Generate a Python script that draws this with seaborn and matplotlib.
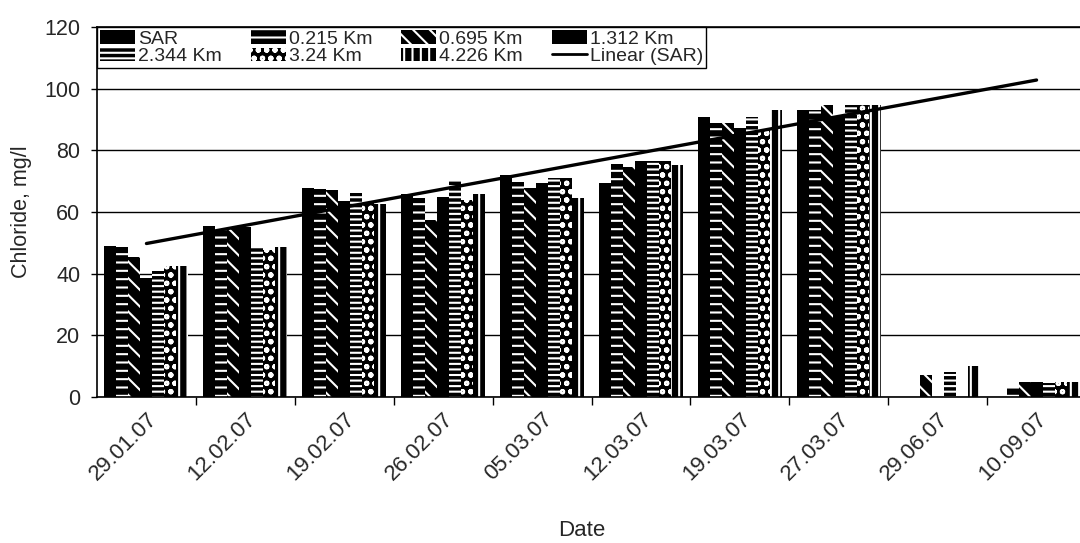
import numpy as np
import pandas as pd
import matplotlib
matplotlib.use("Agg")
import matplotlib.pyplot as plt
import matplotlib.transforms as mtransforms
import seaborn as sns
from matplotlib.patches import Patch
from matplotlib.lines import Line2D

# Sampling dates
dates = ["29.01.07", "12.02.07", "19.02.07", "26.02.07", "05.03.07",
         "12.03.07", "19.03.07", "27.03.07", "29.06.07", "10.09.07"]

nan = np.nan
# Chloride concentration (mg/l) at the source (SAR) and downstream stations
sar     = [49.0, 55.5, 67.7, 66.0, 72.0, 69.3, 90.7, 93.0, nan, nan]
km_0215 = [48.5, 54.4, 67.3, 64.4, 69.8, 75.6, 89.0, 93.0, nan, 3.0]
km_0695 = [45.3, 55.2, 67.0, 57.4, 67.7, 74.7, 89.0, 94.7, 7.0, 5.0]
km_1312 = [38.5, 55.0, 63.5, 65.0, 69.3, 76.7, 87.1, 91.0, nan, 5.0]
km_2344 = [41.0, 48.8, 66.3, 70.4, 70.9, 76.7, 90.7, 94.7, 8.0, 4.5]
km_324  = [42.5, 47.7, 63.0, 64.0, 70.9, 76.7, 86.6, 94.7, nan, 5.0]
km_4226 = [42.5, 48.8, 62.5, 66.0, 64.4, 75.2, 93.0, 94.7, 10.0, 5.0]

series_names = ["SAR", "0.215 Km", "0.695 Km", "1.312 Km",
                "2.344 Km", "3.24 Km", "4.226 Km"]
series_values = [sar, km_0215, km_0695, km_1312, km_2344, km_324, km_4226]

df = pd.DataFrame(
    [(d, name, v) for name, vals in zip(series_names, series_values)
     for d, v in zip(dates, vals)],
    columns=["Date", "Series", "Chloride"],
)

sns.set_style("white")
plt.rcParams["font.family"] = ["Liberation Sans", "DejaVu Sans"]
plt.rcParams["hatch.linewidth"] = 1.5

# (face colour, hatch colour, hatch pattern) for each station
styles = [
    ("black", "black", None),
    ("black", "white", "--"),
    ("black", "white", "\\\\"),
    ("black", "black", None),
    ("black", "white", "---"),
    ("black", "white", "oo"),
    ("black", "white", "||"),
]

fig = plt.figure(figsize=(10.8, 5.43), dpi=100)
ax = fig.add_axes([97 / 1080, 1 - 397 / 543, 989 / 1080, 370 / 543])

ax.set_axisbelow(True)
ax.yaxis.grid(True, color="black", linewidth=1.0)

sns.barplot(data=df, x="Date", y="Chloride", hue="Series",
            order=dates, hue_order=series_names, width=0.85,
            errorbar=None, saturation=1, legend=False, ax=ax)

for cont, (fc, hc, hatch) in zip(ax.containers, styles):
    for bar in cont:
        bar.set_facecolor(fc)
        bar.set_edgecolor(hc)
        bar.set_hatch(hatch)
        bar.set_linewidth(0)

# Linear trend of the SAR series
sar_arr = np.array(sar)
idx = np.arange(1, len(dates) + 1)
ok = ~np.isnan(sar_arr)
slope, intercept = np.polyfit(idx[ok], sar_arr[ok], 1)
xs = np.arange(len(dates))
ax.plot(xs, slope * idx + intercept, color="black", linewidth=2.4)

ax.set_xlim(-0.5, len(dates) - 0.5)
ax.set_ylim(0, 120)
ax.set_yticks(range(0, 121, 20))
ax.set_xticks(xs)
ax.set_xticklabels(dates, rotation=45, ha="right", va="top",
                   rotation_mode="anchor")
shift = mtransforms.ScaledTranslation(-9 / 72, 2 / 72, fig.dpi_scale_trans)
for lab in ax.get_xticklabels():
    lab.set_transform(lab.get_transform() + shift)
ax.set_xticks(np.arange(0.5, len(dates) - 1, 1), minor=True)
ax.tick_params(axis="x", which="major", length=0, pad=8, labelsize=16)
ax.tick_params(axis="x", which="minor", length=6, width=1, direction="out",
               color="black", bottom=True)
ax.tick_params(axis="y", length=4, width=1, direction="out", color="black",
               left=True, labelsize=15.5, pad=8)

for side in ["left", "bottom", "top"]:
    ax.spines[side].set_visible(True)
    ax.spines[side].set_color("black")
    ax.spines[side].set_linewidth(1.2)
ax.spines["right"].set_visible(False)

ax.set_ylabel("Chloride, mg/l", fontsize=15.5, va="center")
ax.yaxis.set_label_coords(-75 / 989, 0.5)
ax.set_xlabel("Date", fontsize=16, va="center")
ax.xaxis.set_label_coords(0.49, -134 / 370)

# Legend laid out row by row in four columns
handles = []
for name, (fc, hc, hatch) in zip(series_names, styles):
    handles.append(Patch(facecolor=fc, edgecolor=hc, hatch=hatch,
                         linewidth=0, label=name))
handles.append(Line2D([0], [0], color="black", linewidth=2, label="Linear (SAR)"))
labels = [h.get_label() for h in handles]
order = [0, 4, 1, 5, 2, 6, 3, 7]
leg = ax.legend([handles[i] for i in order], [labels[i] for i in order],
                ncol=4, loc="upper left", bbox_to_anchor=(0, 1),
                borderaxespad=0, frameon=True, fancybox=False,
                edgecolor="black", framealpha=1, fontsize=14,
                handlelength=1.8, handleheight=0.7, handletextpad=0.15,
                columnspacing=1.5, labelspacing=0.0, borderpad=0.15)
leg.get_frame().set_linewidth(1.0)

fig.savefig("out.png", dpi=100)
